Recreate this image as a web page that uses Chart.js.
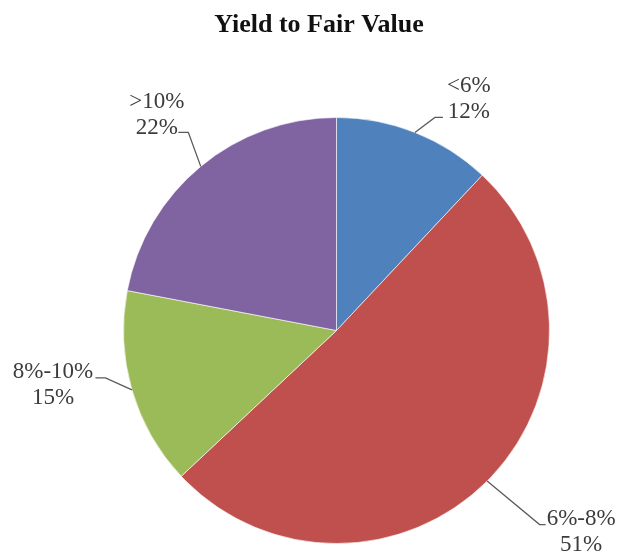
<!DOCTYPE html>
<html>
<head>
<meta charset="utf-8">
<script src="https://cdn.jsdelivr.net/npm/chart.js@4.4.1/dist/chart.umd.min.js"></script>
<style>
  html, body { margin: 0; padding: 0; background: #ffffff; }
  #wrap { width: 619px; height: 556px; }
</style>
</head>
<body>
<div id="wrap"><canvas id="c" width="619" height="556"></canvas></div>
<script>
// ---- data ----
const titleText = "Yield to Fair Value";
const categories = ["<6%", "6%-8%", "8%-10%", ">10%"];
const values = [12, 51, 15, 22];
const colors = ["#4F81BD", "#C0504D", "#9BBB59", "#8064A2"];

// ---- label layout (offsets from slice edge anchor) ----
// text: centre x and first baseline relative to anchor; leader: elbow & end relative to anchor
const labelLayout = [
  { tx: 54, ty: -40, elbow: [20, -15], end: [28, -15] },
  { tx: 94, ty: 43.5, elbow: [52.5, 43.5], end: [58.5, 43.5] },
  { tx: -79, ty: -12, elbow: [-26.5, -12], end: [-36.5, -12] },
  { tx: -44, ty: -58, elbow: [-12.4, -34], end: [-22.4, -34] }
];

const labelFont = '23px "Liberation Serif", "Times New Roman", serif';
const titleFont = 'bold 26px "Liberation Serif", "Times New Roman", serif';
const lineGap = 26;

const labelPlugin = {
  id: 'pieLabels',
  afterDatasetsDraw(chart) {
    const ctx = chart.ctx;
    const meta = chart.getDatasetMeta(0);
    ctx.save();
    // title
    ctx.font = titleFont;
    ctx.fillStyle = '#111111';
    ctx.textAlign = 'center';
    ctx.textBaseline = 'alphabetic';
    ctx.fillText(titleText, 319, 32);

    meta.data.forEach((arc, i) => {
      const p = arc.getProps(['x', 'y', 'startAngle', 'endAngle', 'outerRadius'], true);
      const mid = (p.startAngle + p.endAngle) / 2;
      const ax = p.x + Math.cos(mid) * p.outerRadius;
      const ay = p.y + Math.sin(mid) * p.outerRadius;
      const L = labelLayout[i];
      // leader
      ctx.strokeStyle = '#5a5a5a';
      ctx.lineWidth = 1.3;
      ctx.beginPath();
      ctx.moveTo(ax, ay);
      ctx.lineTo(ax + L.elbow[0], ay + L.elbow[1]);
      ctx.lineTo(ax + L.end[0], ay + L.end[1]);
      ctx.stroke();
      // text
      ctx.font = labelFont;
      ctx.fillStyle = '#3c3c3c';
      ctx.textAlign = 'center';
      ctx.textBaseline = 'alphabetic';
      ctx.fillText(categories[i], ax + L.tx, ay + L.ty);
      ctx.fillText(values[i] + '%', ax + L.tx, ay + L.ty + lineGap);
    });
    ctx.restore();
  }
};

new Chart(document.getElementById('c'), {
  type: 'pie',
  data: {
    labels: categories,
    datasets: [{
      data: values,
      backgroundColor: colors,
      borderColor: 'rgba(255,255,255,0.6)',
      borderWidth: 1
    }]
  },
  options: {
    responsive: false,
    maintainAspectRatio: false,
    devicePixelRatio: 1,
    animation: false,
    layout: { padding: { left: 123, right: 69, top: 117, bottom: 12 } },
    plugins: {
      legend: { display: false },
      title: { display: false },
      tooltip: { enabled: false }
    }
  },
  plugins: [labelPlugin]
});
</script>
</body>
</html>
